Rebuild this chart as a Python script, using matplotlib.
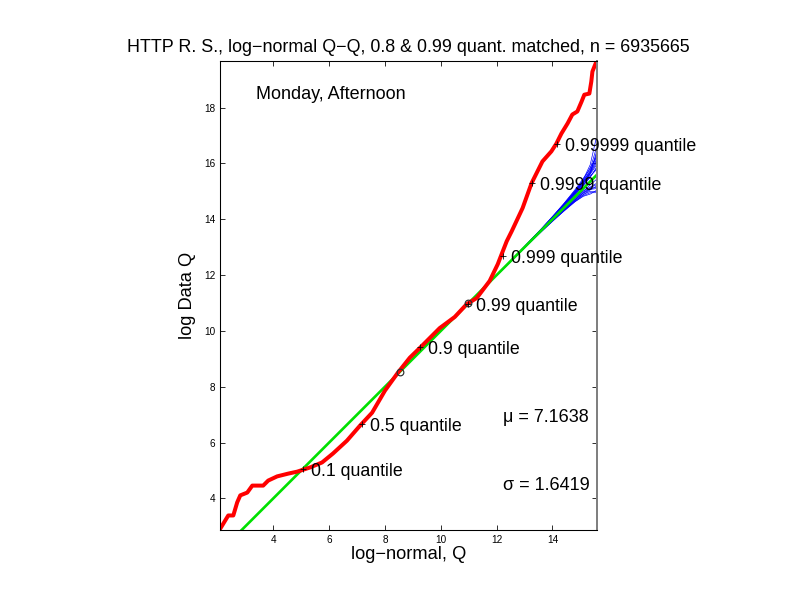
import numpy as np
import matplotlib.pyplot as plt

plt.rcParams['font.family'] = ['Liberation Sans', 'DejaVu Sans']

# fitted log-normal parameters
mu = 7.1638
sigma = 1.6419

# empirical Q-Q curve (log-normal quantile, log data quantile)
data_x = [2.11, 2.39, 2.57, 2.71, 2.82, 3.07, 3.25, 3.64, 3.82, 4.14, 4.54, 4.86,
          5.32, 5.75, 6.14, 6.64, 7.11, 7.54, 8.0, 8.46, 8.89, 9.25, 9.96, 10.5,
          10.93, 11.29, 11.75, 12.04, 12.18, 12.36, 12.54, 12.93, 13.25, 13.64,
          13.96, 14.14, 14.32, 14.54, 14.71, 14.89, 15.04, 15.14, 15.32, 15.39,
          15.43, 15.57]
data_y = [2.93, 3.39, 3.39, 3.86, 4.11, 4.21, 4.46, 4.46, 4.64, 4.79, 4.89, 4.96,
          5.11, 5.29, 5.61, 6.07, 6.61, 7.07, 7.86, 8.5, 9.04, 9.39, 10.1, 10.5,
          10.96, 11.18, 11.79, 12.39, 12.75, 13.21, 13.57, 14.4, 15.29, 16.07,
          16.43, 16.71, 17.07, 17.43, 17.75, 17.86, 18.21, 18.46, 18.5, 18.93,
          19.29, 19.64]

# reference line ends
ref_x = [2.0, 15.6]

# simulated envelope: deviation from reference line at these x positions
sim_x = [12.0, 13.0, 13.6, 14.0, 14.4, 14.8, 15.1, 15.35, 15.6]
sim_dev = [
    [0, 0.02, 0.05, 0.08, 0.12, 0.18, 0.25, 0.40, 0.70],
    [0, 0.01, 0.03, 0.05, 0.08, 0.13, 0.18, 0.30, 0.45],
    [0, 0.03, 0.06, 0.10, 0.15, 0.22, 0.32, 0.60, 1.45],
    [0, -0.02, -0.04, -0.06, -0.09, -0.14, -0.22, -0.35, -0.60],
    [0, -0.01, -0.02, -0.04, -0.06, -0.10, -0.16, -0.25, -0.45],
    [0, 0.00, 0.01, 0.02, 0.04, 0.06, 0.10, 0.15, 0.30],
    [0, 0.00, -0.01, -0.02, -0.03, -0.05, -0.09, -0.20, -0.30],
    [0, 0.02, 0.04, 0.06, 0.09, 0.14, 0.20, 0.30, 0.55],
    [0, -0.03, -0.05, -0.08, -0.11, -0.17, -0.26, -0.40, -0.65],
    [0, 0.01, 0.02, 0.03, 0.06, 0.09, 0.13, 0.20, 0.20],
    [0, -0.01, -0.02, -0.03, -0.05, -0.07, -0.10, -0.12, -0.15],
    [0, 0.02, 0.03, 0.04, 0.07, 0.11, 0.17, 0.28, 0.90],
    [0, -0.02, -0.03, -0.05, -0.07, -0.11, -0.17, -0.28, -0.50],
    [0, 0.01, 0.04, 0.07, 0.12, 0.20, 0.28, 0.35, 0.60],
    [0, -0.01, -0.03, -0.05, -0.09, -0.16, -0.22, -0.30, -0.40],
    [0, 0.02, 0.05, 0.09, 0.15, 0.25, 0.36, 0.45, 1.05],
    [0, 0.01, 0.02, 0.04, 0.10, 0.16, 0.22, 0.26, 0.38],
    [0, -0.01, -0.04, -0.07, -0.12, -0.18, -0.28, -0.45, -0.55],
    [0, 0.00, 0.03, 0.06, 0.11, 0.15, 0.24, 0.34, 0.80],
    [0, 0.01, 0.01, 0.02, 0.05, 0.08, 0.12, 0.17, 0.25],
    [0, -0.02, -0.03, -0.04, -0.08, -0.12, -0.14, -0.22, -0.35],
    [0, 0.02, 0.04, 0.08, 0.10, 0.17, 0.30, 0.50, 0.65],
]

# matched quantiles (0.8 and 0.99)
match_z = [0.8416, 2.3263]

# labelled quantiles
q_labels = ['0.1', '0.5', '0.9', '0.99', '0.999', '0.9999', '0.99999']
q_z = [-1.2816, 0.0, 1.2816, 2.3263, 3.0902, 3.7190, 4.2649]
q_y = [5.07, 6.68, 9.43, 10.98, 12.68, 15.29, 16.71]

fig = plt.figure(figsize=(8.25, 6.375), dpi=96)
ax = fig.add_axes([0.278, 0.134, 0.476, 0.766])

for dev in sim_dev:
    ax.plot(sim_x, np.array(sim_x) + np.array(dev), color='#0000ff', lw=0.5)
ax.plot(ref_x, ref_x, color='#00e000', lw=2)
ax.plot(data_x, data_y, color='#ff0000', lw=3)

mx = mu + sigma * np.array(match_z)
ax.plot(mx, mx, 'o', mfc='none', mec='#303030', ms=5, mew=0.9, zorder=5)

for lab, z, yv in zip(q_labels, q_z, q_y):
    xv = mu + sigma * z
    ax.plot(xv, yv, '+', color='k', ms=5, mew=0.6, zorder=5)
    ax.annotate(lab + ' quantile', (xv, yv), xytext=(6, -2), textcoords='offset points',
                fontsize=13.3, va='center', ha='left', annotation_clip=False)

ax.text(0.095, 0.93, 'Monday, Afternoon', transform=ax.transAxes, fontsize=13.5, va='center')
ax.text(0.75, 0.24, '\u03bc = 7.1638', transform=ax.transAxes, fontsize=13.5, va='center')
ax.text(0.75, 0.095, '\u03c3 = 1.6419', transform=ax.transAxes, fontsize=13.5, va='center')

ax.set_xlim(2.1, 15.6)
ax.set_ylim(2.87, 19.66)
ax.set_xticks([4, 6, 8, 10, 12, 14])
ax.set_yticks([4, 6, 8, 10, 12, 14, 16, 18])
ax.tick_params(direction='in', top=True, right=True, labelsize=7.5, length=4, width=0.6)
for s in ['left', 'bottom', 'top']:
    ax.spines[s].set_linewidth(0.8)
ax.spines['right'].set_color('#808080')
ax.spines['right'].set_linewidth(1.5)

ax.set_title('HTTP R. S., log\u2212normal Q\u2212Q, 0.8 & 0.99 quant. matched, n = 6935665',
             fontsize=13.4, pad=7)
ax.set_xlabel('log\u2212normal, Q', fontsize=13.7, labelpad=1)
ax.set_ylabel('log Data Q', fontsize=13.7, labelpad=6)

fig.savefig('out.png', dpi=96)
